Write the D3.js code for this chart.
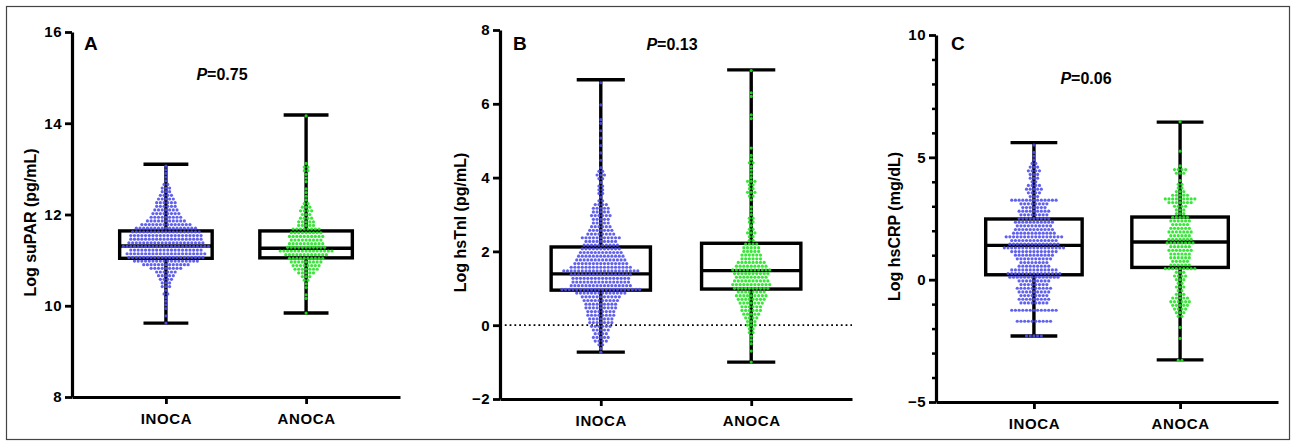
<!DOCTYPE html>
<html>
<head>
<meta charset="utf-8">
<script src="https://cdn.jsdelivr.net/npm/d3@7"></script>
<style>
  body { margin: 0; background: #fff; }
  svg { display: block; font-family: "Liberation Sans", Arial, sans-serif; }
</style>
</head>
<body>
<div id="chart-area"></div>
<script>
// groups and labels
const categories = ["INOCA", "ANOCA"];
const panelLetters = ["A", "B", "C"];
const pValues = ["0.75", "0.13", "0.06"];
const yTitles = ["Log suPAR (pg/mL)", "Log hsTnI (pg/mL)", "Log hsCRP (mg/dL)"];

// y ticks
const aTicks = [8, 10, 12, 14, 16];
const bTicks = [-2, 0, 2, 4, 6, 8];
const cTicks = [-5, 0, 5, 10];
const cMinorTicks = [-4, -3, -2, -1, 1, 2, 3, 4, 6, 7, 8, 9];

// box stats: min, q1, median, q3, max
const aBoxInoca = [9.62, 11.04, 11.31, 11.64, 13.1];
const aBoxAnoca = [9.84, 11.05, 11.26, 11.64, 14.18];
const bBoxInoca = [-0.73, 0.95, 1.39, 2.12, 6.65];
const bBoxAnoca = [-1.0, 0.98, 1.48, 2.22, 6.92];
const cBoxInoca = [-2.3, 0.2, 1.4, 2.48, 5.6];
const cBoxAnoca = [-3.28, 0.5, 1.54, 2.56, 6.44];

// dot counts per value row (row value = start + i * step)
const aStep = 0.08;
const aInocaStart = 9.62;
const aInocaCounts = [1,0,1,0,1,1,1,1,2,1, 3,3,4,5,6,9,13,18,21,22, 20,24,21,20,20,19,17,14,11,9,
  8,7,6,6,5,4,3,3,2,1, 1,1,1,1];
const aAnocaStart = 9.84;
const aAnocaCounts = [1,0,0,0,1,1,0,1,1,2, 3,5,7,8,9,10,12,15,11,10, 9,10,9,8,5,5,4,3,4,3,
  2,1,1,1,1,0,1,1,1,2, 2,1,0,0,0,0,0,0,0,0, 0,0,0,0,1];

const bStep = 0.1;
const bInocaStart = -0.73;
const bInocaCounts = [1,1,2,4,5,4,5,6, 7,7,8,8,9,9,10,11,14, 22,17,16,16,17,21,17,15,14,13,
  12,11,10,9,11,8,7,6,5,5, 6,5,5,4,2,1,2,2,2,1, 2,3,2,1,
  0,1,0,1,0,1,0,1,0,1,0,1,1,0,0,0,1,0,0,0,0,0,1];
const bAnocaStart = -1.0;
const bAnocaCounts = [1,0,0,1,0,1,1,1,2,2, 3,3,4,5,6,6,7,8,9,8, 10,11,10,9,10,11,9,8,6,6,
  5,5,4,2,2,3,2,1,2,2, 1,1,1,0,1,2,3,2,2,3, 1,1,1,1,2,1,1,0,1,0,
  0,0,0,0,0,0,1,1,0,0, 0,0,1,1,0,0,0,0,0,1];

const cStep = 0.15;
const cInocaStart = -2.3;
const cInocaCounts = [5,0,0,0,10,0,0,13,0,8, 9,8,9,10,8,9,14,15,13,9, 8,10,11,13,17,14,13,16,12,11,
  10,11,9,8,9,7,8,13,3,4, 5,4,2,3,3,4,3,2,1,1, 1,0,1];
const cAnocaStart = -3.3;
const cAnocaCounts = [2,0,0,0,0,0,1,0,0,1, 0,0,2,3,4,5,6,5,3,2, 3,2,3,4,3,9,6,5,6,6,
  7,6,8,7,6,7,6,5,6,5, 3,3,4,7,9,5,3,2,2,1, 0,3,4,1,0,0,0,1,0,0, 0,0,0,0,0,1];

const dotColors = ["#5050ec", "#22e622"];

const panels = [
  { left: 72, right: 400, top: 32, bottom: 397, domain: [8, 16], ticks: aTicks, minor: [],
    boxes: [aBoxInoca, aBoxAnoca], step: aStep,
    starts: [aInocaStart, aAnocaStart], counts: [aInocaCounts, aAnocaCounts],
    letterX: 84, letterY: 50, pX: 222, pY: 80, titleX: 36, zeroLine: false },
  { left: 500, right: 852, top: 30, bottom: 399, domain: [-2, 8], ticks: bTicks, minor: [],
    boxes: [bBoxInoca, bBoxAnoca], step: bStep,
    starts: [bInocaStart, bAnocaStart], counts: [bInocaCounts, bAnocaCounts],
    letterX: 513, letterY: 50, pX: 672, pY: 50, titleX: 466, zeroLine: true },
  { left: 936, right: 1278, top: 35, bottom: 402, domain: [-5, 10], ticks: cTicks, minor: cMinorTicks,
    boxes: [cBoxInoca, cBoxAnoca], step: cStep,
    starts: [cInocaStart, cAnocaStart], counts: [cInocaCounts, cAnocaCounts],
    letterX: 951, letterY: 50, pX: 1086, pY: 84, titleX: 900, zeroLine: false }
];

let svg = d3.select("#chart-area")
  .append("svg")
    .attr("width", 1293)
    .attr("height", 443);

svg.append("rect")
  .attr("x", 6.5).attr("y", 6.5)
  .attr("width", 1283).attr("height", 433)
  .attr("fill", "none")
  .attr("stroke", "#444")
  .attr("stroke-width", 1.2);

panels.forEach((p, pi) => {
  let g = svg.append("g");

  let y = d3.scaleLinear().domain(p.domain).range([p.bottom, p.top]);
  let x = d3.scalePoint().domain(categories).range([p.left, p.right]).padding(0.67);
  let step = x.step();
  let boxW = step * 0.66;
  let capW = step * 0.32;
  let spacing = 3.7;

  if (p.zeroLine) {
    g.append("line")
      .attr("x1", p.left).attr("x2", p.right)
      .attr("y1", y(0)).attr("y2", y(0))
      .attr("stroke", "#000")
      .attr("stroke-width", 1.8)
      .attr("stroke-dasharray", "1.8,3");
  }

  // box and whiskers
  categories.forEach((cat, ci) => {
    let b = p.boxes[ci];
    let cx = x(cat);
    let bg = g.append("g")
      .attr("stroke", "#000")
      .attr("stroke-width", 3.4)
      .attr("fill", "none");
    bg.append("line").attr("x1", cx).attr("x2", cx).attr("y1", y(b[0])).attr("y2", y(b[1]));
    bg.append("line").attr("x1", cx).attr("x2", cx).attr("y1", y(b[3])).attr("y2", y(b[4]));
    bg.append("line").attr("x1", cx - capW / 2).attr("x2", cx + capW / 2).attr("y1", y(b[0])).attr("y2", y(b[0]));
    bg.append("line").attr("x1", cx - capW / 2).attr("x2", cx + capW / 2).attr("y1", y(b[4])).attr("y2", y(b[4]));
    bg.append("rect")
      .attr("x", cx - boxW / 2).attr("y", y(b[3]))
      .attr("width", boxW).attr("height", y(b[1]) - y(b[3]));
    bg.append("line").attr("x1", cx - boxW / 2).attr("x2", cx + boxW / 2).attr("y1", y(b[2])).attr("y2", y(b[2]));
  });

  // beeswarm dots from row counts, on top of the boxes
  categories.forEach((cat, ci) => {
    let dots = [];
    p.counts[ci].forEach((n, i) => {
      let v = p.starts[ci] + i * p.step;
      for (let j = 0; j < n; j++) {
        dots.push({ v: v, off: (j - (n - 1) / 2) * spacing });
      }
    });
    g.append("g").selectAll("circle")
      .data(dots)
      .enter().append("circle")
        .attr("cx", d => x(cat) + d.off)
        .attr("cy", d => y(d.v))
        .attr("r", 1.6)
        .attr("fill", dotColors[ci])
        .attr("fill-opacity", 0.9);
  });

  // axes
  let yAxisCall = d3.axisLeft(y).tickValues(p.ticks).tickSize(7).tickPadding(3).tickSizeOuter(0);
  let yAx = g.append("g")
    .attr("transform", `translate(${p.left}, 0)`)
    .call(yAxisCall);
  if (p.minor.length) {
    g.append("g")
      .attr("transform", `translate(${p.left}, 0)`)
      .call(d3.axisLeft(y).tickValues(p.minor).tickSize(4).tickFormat("").tickSizeOuter(0))
      .call(a => a.select(".domain").remove())
      .selectAll("line").attr("stroke-width", 2.5);
  }

  let xAxisCall = d3.axisBottom(x).tickSize(7).tickPadding(6).tickSizeOuter(0);
  let xAx = g.append("g")
    .attr("transform", `translate(0, ${p.bottom})`)
    .call(xAxisCall);

  [yAx, xAx].forEach(a => {
    a.attr("font-family", null).attr("font-size", null);
    a.select(".domain").attr("stroke-width", 3.2).attr("stroke", "#000");
    a.selectAll(".tick line").attr("stroke-width", 2.8).attr("stroke", "#000");
    a.selectAll(".tick text")
      .style("font-size", "15px")
      .style("font-weight", "bold")
      .attr("fill", "#000");
  });
  yAx.selectAll(".tick text").attr("letter-spacing", "0.5px");
  xAx.selectAll(".tick text").attr("dy", "0.95em").attr("letter-spacing", "0.6px");

  // texts
  g.append("text")
    .attr("x", p.letterX).attr("y", p.letterY)
    .attr("font-size", "19px").attr("font-weight", "bold")
    .text(panelLetters[pi]);

  let pt = g.append("text")
    .attr("x", p.pX).attr("y", p.pY)
    .attr("text-anchor", "middle")
    .attr("font-size", "16px").attr("font-weight", "bold");
  pt.append("tspan").attr("font-style", "italic").text("P");
  pt.append("tspan").text("=" + pValues[pi]);

  g.append("text")
    .attr("transform", `translate(${p.titleX}, ${(p.top + p.bottom) / 2 + 8}) rotate(-90)`)
    .attr("text-anchor", "middle")
    .attr("font-size", "16px").attr("font-weight", "bold")
    .text(yTitles[pi]);
});
</script>
</body>
</html>
